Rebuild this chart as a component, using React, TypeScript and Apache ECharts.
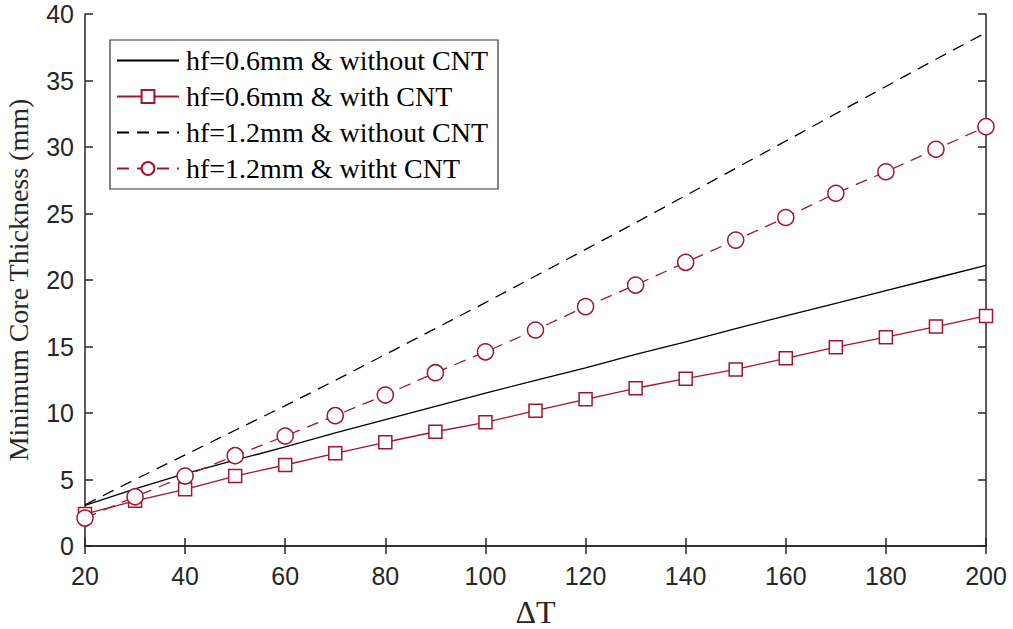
import React, { useEffect, useRef } from "react";
import * as echarts from "echarts";

const deltaT = [20, 30, 40, 50, 60, 70, 80, 90, 100, 110, 120, 130, 140, 150, 160, 170, 180, 190, 200];
const hf06NoCnt = [3.05, 4.3, 5.45, 6.45, 7.45, 8.5, 9.5, 10.5, 11.5, 12.45, 13.4, 14.4, 15.35, 16.35, 17.3, 18.25, 19.2, 20.15, 21.1];
const hf06Cnt = [2.4, 3.4, 4.26, 5.26, 6.09, 6.97, 7.8, 8.59, 9.3, 10.17, 11.03, 11.86, 12.58, 13.28, 14.11, 14.95, 15.7, 16.5, 17.3];
const hf12NoCnt = [3.1, 5.0, 6.85, 8.7, 10.55, 12.45, 14.4, 16.35, 18.3, 20.3, 22.3, 24.3, 26.35, 28.4, 30.45, 32.5, 34.55, 36.6, 38.6];
const hf12Cnt = [2.1, 3.7, 5.26, 6.79, 8.27, 9.8, 11.35, 13.03, 14.6, 16.24, 18.0, 19.62, 21.33, 23.0, 24.7, 26.52, 28.14, 29.83, 31.53];

const seriesNames = [
  "hf=0.6mm & without CNT",
  "hf=0.6mm & with CNT",
  "hf=1.2mm & without CNT",
  "hf=1.2mm & witht CNT",
];
const xTicks = { min: 20, max: 200, interval: 20 };
const yTicks = { min: 0, max: 40, interval: 5 };

const RED = "#A2142F";
const AX = "#262626";
const SERIF = "Liberation Serif, serif";

export default function App() {
  const ref = useRef<HTMLDivElement>(null);
  useEffect(() => {
    if (!ref.current) return;
    const chart = echarts.init(ref.current, undefined, { renderer: "svg" });
    const pair = (ys: number[]) => deltaT.map((x, i) => [x, ys[i]]);
    const axisLine = { show: true, lineStyle: { color: AX, width: 1.5 } };
    const tickIn = { show: true, inside: true, length: 8, lineStyle: { color: AX, width: 1.5 } };
    const labelStyle = { color: AX, fontFamily: "Liberation Sans, Arial, sans-serif", fontSize: 25 };
    chart.setOption({
      animation: false,
      backgroundColor: "#ffffff",
      grid: { left: 85, right: 27, top: 14, bottom: 83, containLabel: false, outerBoundsMode: "none" },
      legend: {
        show: true,
        orient: "vertical",
        left: 110,
        top: 40,
        backgroundColor: "#ffffff",
        borderColor: "#333",
        borderWidth: 1.2,
        padding: [6.5, 10, 6.5, 6],
        itemWidth: 62,
        itemHeight: 16,
        itemGap: 8,
        data: [
          { name: seriesNames[0], itemStyle: { opacity: 0 } },
          { name: seriesNames[1] },
          { name: seriesNames[2], itemStyle: { opacity: 0 } },
          { name: seriesNames[3] },
        ],
        textStyle: { fontFamily: SERIF, fontSize: 28, lineHeight: 27, color: "#000", padding: [0, 0, 0, 2] },
      },
      xAxis: [
        {
          type: "value",
          ...xTicks,
          position: "bottom",
          axisLine,
          axisTick: tickIn,
          splitLine: { show: false },
          axisLabel: { ...labelStyle, margin: 17 },
          name: "ΔT",
          nameLocation: "middle",
          nameGap: 50,
          nameTextStyle: { fontFamily: SERIF, fontSize: 32, color: AX },
        },
        {
          type: "value",
          ...xTicks,
          position: "top",
          axisLine,
          axisTick: tickIn,
          splitLine: { show: false },
          axisLabel: { show: false },
        },
      ],
      yAxis: [
        {
          type: "value",
          ...yTicks,
          position: "left",
          axisLine,
          axisTick: tickIn,
          splitLine: { show: false },
          axisLabel: { ...labelStyle, margin: 11 },
          name: "Minimum Core Thickness (mm)",
          nameLocation: "middle",
          nameGap: 53,
          nameTextStyle: { fontFamily: SERIF, fontSize: 28, color: AX },
        },
        {
          type: "value",
          ...yTicks,
          position: "right",
          axisLine,
          axisTick: tickIn,
          splitLine: { show: false },
          axisLabel: { show: false },
        },
      ],
      series: [
        {
          name: seriesNames[0],
          type: "line",
          data: pair(hf06NoCnt),
          symbol: "none",
          lineStyle: { color: "#000", width: 1.3 },
          itemStyle: { color: "#000" },
          z: 2,
        },
        {
          name: seriesNames[1],
          type: "line",
          data: pair(hf06Cnt),
          symbol: "rect",
          symbolSize: 13,
          lineStyle: { color: RED, width: 1.3 },
          itemStyle: { color: "#fff", borderColor: RED, borderWidth: 1.5 },
          z: 3,
        },
        {
          name: seriesNames[2],
          type: "line",
          data: pair(hf12NoCnt),
          symbol: "none",
          lineStyle: { color: "#000", width: 1.3, type: [12, 8] },
          itemStyle: { color: "#000" },
          z: 2,
        },
        {
          name: seriesNames[3],
          type: "line",
          data: pair(hf12Cnt),
          symbol: "circle",
          symbolSize: 16,
          lineStyle: { color: RED, width: 1.3, type: [12, 8] },
          itemStyle: { color: "#fff", borderColor: RED, borderWidth: 1.5 },
          z: 4,
        },
      ],
    });
    return () => chart.dispose();
  }, []);
  return <div ref={ref} style={{ width: 1013, height: 629, position: "absolute", left: 0, top: 0 }} />;
}
